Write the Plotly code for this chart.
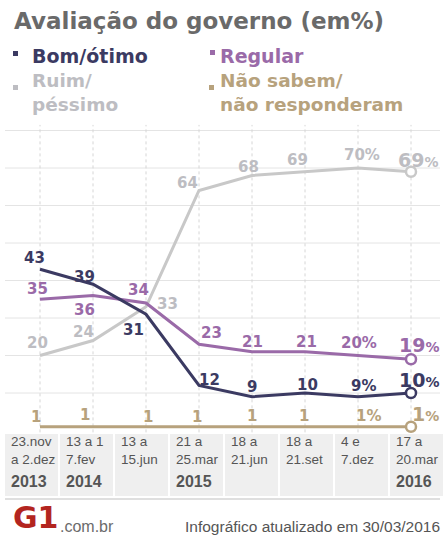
import plotly.graph_objects as go

W, H = 444, 537

# survey periods (two text lines each) and the year shown under some of them
date_line1 = ["23.nov", "13 a 1", "13 a", "21 a", "18 a", "18 a", "4 e", "17 a"]
date_line2 = ["a 2.dez", "7.fev", "15.jun", "25.mar", "21.jun", "21.set", "7.dez", "20.mar"]
years = ["2013", "2014", "", "2015", "", "", "", "2016"]

# government approval, in %
bom_otimo = [43, 39, 31, 12, 9, 10, 9, 10]
regular = [35, 36, 34, 23, 21, 21, 20, 19]
ruim_pessimo = [20, 24, 33, 64, 68, 69, 70, 69]
nao_sabem = [1, 1, 1, 1, 1, 1, 1, 1]

NAVY = "#3b3a62"
PURPLE = "#9a6aa8"
GRAY = "#c8c8c8"
GRAY_TXT = "#bdbdc2"
TAN = "#b7a27d"
NUM_FONT = "DejaVu Sans"

# plot scale: 53 px between surveys, first one 40 px from the left edge;
# 3.75 px per percentage point, zero at 430.5 px from the top
X0, DX = 40, 53
Y0, DY = 430.5, 3.75
x_range = [-X0 / DX, (W - X0) / DX]
y_range = [(Y0 - H) / DY, Y0 / DY]


def px(p):
    return p / W


def py(p):
    return 1 - p / H


# label nudges in pixels (right, up) relative to each point
series = [
    dict(name="Ruim/péssimo", values=ruim_pessimo, color=GRAY, text=GRAY_TXT,
         nudge=[(-3, 12.5), (-9.5, 9), (21.5, 3), (-11.5, 7.5), (-4, 8.5), (-8, 12), (4, 13), (7, 12)]),
    dict(name="Não sabem/não responderam", values=nao_sabem, color=TAN, text=TAN,
         nudge=[(-4.5, 10), (-8, 12), (1.5, 10), (-2.5, 10), (0, 11), (-1.5, 11), (10, 11), (14, 13)]),
    dict(name="Regular", values=regular, color=PURPLE, text=PURPLE,
         nudge=[(-3, 10), (-8.5, -14), (-7.5, 13.5), (12, 11), (0, 10), (1, 10), (1, 13), (8, 14)]),
    dict(name="Bom/ótimo", values=bom_otimo, color=NAVY, text=NAVY,
         nudge=[(-6, 11), (-9, 7), (-13, -16), (10, 6), (0, 10), (2, 8.5), (5, 11), (8, 13)]),
]

xs = list(range(len(date_line1)))
fig = go.Figure()
annotations = []
shapes = []

# grid
for v in range(10, 90, 10):
    shapes.append(dict(type="line", xref="x", yref="y", x0=(5 - X0) / DX, x1=(440 - X0) / DX,
                       y0=v, y1=v, line=dict(color="#e4e4e4", width=1), layer="below"))
for i in xs:
    shapes.append(dict(type="line", xref="x", yref="y", x0=i, x1=i, y0=-0.5, y1=81.5,
                       line=dict(color="#d6d6d6", width=1, dash="dot"), layer="below"))

last = len(xs) - 1
for s in series:
    fig.add_trace(go.Scatter(x=xs, y=s["values"], mode="lines", name=s["name"],
                             line=dict(color=s["color"], width=3), hoverinfo="skip",
                             showlegend=False))
    fig.add_trace(go.Scatter(x=[xs[last]], y=[s["values"][last]], mode="markers",
                             marker=dict(symbol="circle", size=10, color="white",
                                         line=dict(color=s["color"], width=2.5)),
                             hoverinfo="skip", showlegend=False))
    for i, v in enumerate(s["values"]):
        if i == last:
            txt = f"<span style='font-size:19px'>{v}</span><span style='font-size:14px'>%</span>"
        elif i == last - 1:
            txt = f"{v}%"
        else:
            txt = f"{v}"
        dx, dy = s["nudge"][i]
        annotations.append(dict(x=i, y=v, xref="x", yref="y", text=txt, showarrow=False,
                                xanchor="center", yanchor="middle", xshift=dx, yshift=dy,
                                font=dict(family=NUM_FONT, size=15, color=s["text"], weight="bold")))

# date strip under the chart
CELL_LEFT, CELL_STEP, CELL_W = 5, 55, 53
for j in xs:
    left = CELL_LEFT + CELL_STEP * j
    shapes.append(dict(type="rect", xref="paper", yref="paper", x0=px(left), x1=px(left + CELL_W),
                       y0=py(496), y1=py(434), fillcolor="#efefef", line=dict(width=0), layer="below"))
    annotations.append(dict(x=px(left + 4), y=py(451), xref="paper", yref="paper",
                            text=f"{date_line1[j]}<br>{date_line2[j]}", align="left",
                            showarrow=False, xanchor="left", yanchor="middle",
                            font=dict(family="Liberation Sans", size=13.5, color="#555555")))
    if years[j]:
        annotations.append(dict(x=px(left + 4), y=py(481), xref="paper", yref="paper", text=years[j],
                                showarrow=False, xanchor="left", yanchor="middle",
                                font=dict(family="Liberation Sans", size=16, color="#555555",
                                          weight="bold")))
shapes.append(dict(type="line", xref="paper", yref="paper", x0=px(5), x1=px(440), y0=py(499), y1=py(499),
                   line=dict(color="#d4d4d4", width=1.5)))

# title
annotations.append(dict(x=px(12), y=py(21), xref="paper", yref="paper", text="Avaliação do governo (em%)",
                        showarrow=False, xanchor="left", yanchor="middle",
                        font=dict(family="DejaVu Sans", size=23, color="#6a6a6a", weight="bold")))

# legend
legend_items = [
    ("Bom/ótimo", NAVY, 13, 30, 51, 55.5, 19),
    ("Regular", PURPLE, 210, 218, 50, 55.5, 19),
    ("Ruim/<br>péssimo", GRAY_TXT, 13, 30, 85, 92, 18.5),
    ("Não sabem/<br>não responderam", TAN, 209, 218, 85, 92, 18.5),
]
for label, color, sq_x, tx, sq_y, yc, size in legend_items:
    shapes.append(dict(type="rect", xref="paper", yref="paper", x0=px(sq_x), x1=px(sq_x + 5),
                       y0=py(sq_y + 5), y1=py(sq_y), fillcolor=color, line=dict(width=0)))
    annotations.append(dict(x=px(tx), y=py(yc), xref="paper", yref="paper", text=label, align="left",
                            showarrow=False, xanchor="left", yanchor="middle",
                            font=dict(family="DejaVu Sans", size=size, color=color, weight="bold")))

# footer
annotations.append(dict(x=px(11), y=py(537), xref="paper", yref="paper", text="G1", showarrow=False,
                        xanchor="left", yanchor="bottom",
                        font=dict(family="DejaVu Sans", size=30, color="#b3251f", weight="bold")))
annotations.append(dict(x=px(58), y=py(537), xref="paper", yref="paper", text=".com.br", showarrow=False,
                        xanchor="left", yanchor="bottom",
                        font=dict(family="Liberation Sans", size=16, color="#6b6b6b")))
annotations.append(dict(x=px(442), y=py(537), xref="paper", yref="paper",
                        text="Infográfico atualizado em 30/03/2016", showarrow=False,
                        xanchor="right", yanchor="bottom",
                        font=dict(family="Liberation Sans", size=15.5, color="#555555")))

fig.update_layout(
    width=W, height=H, autosize=False,
    margin=dict(l=0, r=0, t=0, b=0),
    paper_bgcolor="white", plot_bgcolor="white",
    xaxis=dict(range=x_range, visible=False, fixedrange=True),
    yaxis=dict(range=y_range, visible=False, fixedrange=True),
    shapes=shapes, annotations=annotations,
)

fig.write_html("out.html")
